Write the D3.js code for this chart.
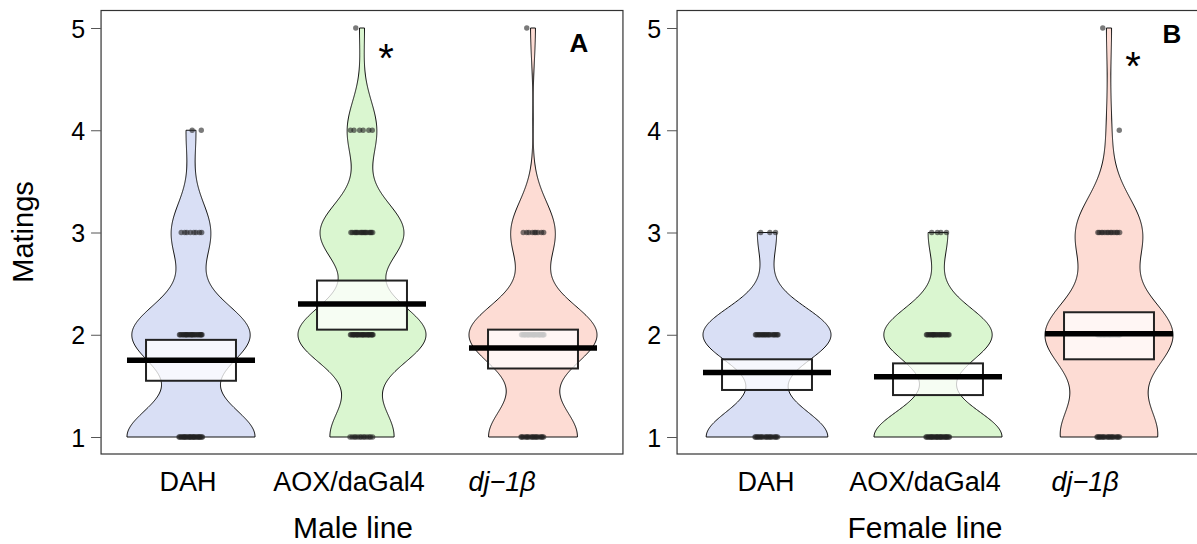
<!DOCTYPE html>
<html>
<head>
<meta charset="utf-8">
<script src="https://cdn.jsdelivr.net/npm/d3@7"></script>
<style>
  body { margin:0; background:#fff; }
  text { font-family: "Liberation Sans", Arial, Helvetica, sans-serif; fill:#000; }
</style>
</head>
<body>
<div id="chart"></div>
<script>
// matings: counts of flies per value (1..5 matings)
const values = [1, 2, 3, 4, 5];
const groups = ["DAH", "AOX/daGal4", "dj-1b"];

const maleDAH = [26, 24, 8, 2, 0];
const maleAOX = [13, 26, 17, 6, 1];
const maleDJ  = [18, 26, 9, 0, 1];
const femaleDAH = [19, 20, 3, 0, 0];
const femaleAOX = [26, 22, 4, 0, 0];
const femaleDJ  = [19, 25, 13, 1, 1];

// mean line and inference band
const maleMean = [1.75, 2.30, 1.87];
const maleLow  = [1.55, 2.05, 1.67];
const maleHigh = [1.95, 2.53, 2.05];
const femaleMean = [1.63, 1.59, 2.01];
const femaleLow  = [1.46, 1.41, 1.76];
const femaleHigh = [1.76, 1.72, 2.22];

const yTicks = [1, 2, 3, 4, 5];
const beanColors = ["#d9dff5", "#daf6d0", "#fddcd4"];

const W = 1197, H = 544;
const svg = d3.select("#chart").append("svg").attr("width", W).attr("height", H);

var y = d3.scaleLinear().domain([1, 5]).range([437, 28]);

// R's bw.nrd0
var bwNrd0 = function(arr){
  var s = d3.deviation(arr);
  var iqr = d3.quantile(arr, 0.75) - d3.quantile(arr, 0.25);
  var lo = Math.min(s, iqr/1.34);
  return 0.9 * lo * Math.pow(arr.length, -0.2);
}
var expand = function(counts){
  var out = [];
  counts.forEach((c,i)=>{ for (let k=0;k<c;k++) out.push(values[i]); });
  return out;
}

var drawPanel = function(opt){
  var x = d3.scaleLinear().domain([1, 3]).range([opt.x0, opt.x0 + 342]);
  var g = svg.append("g");
  var halfW = 0.3743, boxW = 0.263;

  // frame
  g.append("rect")
    .attr("x", x(0.474)).attr("y", 10.5)
    .attr("width", x(3.526) - x(0.474)).attr("height", 443.5)
    .attr("fill", "none").attr("stroke", "#333").attr("stroke-width", 1.2);

  // y axis
  var yAxis = d3.axisLeft(y).tickValues(yTicks).tickSize(10).tickPadding(6).tickFormat(d3.format("d"));
  var ax = g.append("g").attr("transform", "translate(" + x(0.474) + ",0)").call(yAxis);
  ax.select(".domain").remove();
  ax.selectAll("line").attr("stroke", "#555");
  ax.selectAll("text").attr("font-size", 25).attr("dy", "0.36em");

  opt.data.forEach((counts, gi)=>{
    var arr = expand(counts);
    var h = bwNrd0(arr);
    var lo = d3.min(arr), hi = d3.max(arr);
    var grid = d3.range(lo, hi + 1e-9, 0.01);
    var dens = grid.map(v => d3.sum(arr, a => Math.exp(-0.5*((v-a)/h)*((v-a)/h))));
    var mx = d3.max(dens);
    var c = gi + 1;
    var pts = grid.map((v,i)=>[x(c - halfW*dens[i]/mx), y(v)]);
    var ptsR = grid.map((v,i)=>[x(c + halfW*dens[i]/mx), y(v)]).reverse();
    g.append("path")
      .attr("d", d3.line()(pts.concat(ptsR)) + "Z")
      .attr("fill", beanColors[gi]).attr("stroke", "#111").attr("stroke-width", 1);

    // points with fixed spread
    var pg = g.append("g");
    counts.forEach((n, vi)=>{
      for (let k=0;k<n;k++){
        var off = (((k*0.618 + vi*0.31) % 1) - 0.5) * 0.14;
        pg.append("circle")
          .attr("cx", x(c + off)).attr("cy", y(values[vi]))
          .attr("r", 2.7).attr("fill", "#222").attr("fill-opacity", 0.6);
      }
    });

    // inference band
    g.append("rect")
      .attr("x", x(c - boxW)).attr("y", y(opt.high[gi]))
      .attr("width", x(c + boxW) - x(c - boxW))
      .attr("height", y(opt.low[gi]) - y(opt.high[gi]))
      .attr("fill", "#fff").attr("fill-opacity", 0.75)
      .attr("stroke", "#222").attr("stroke-width", 2);

    // mean line
    g.append("line")
      .attr("x1", x(c - halfW)).attr("x2", x(c + halfW))
      .attr("y1", y(opt.mean[gi])).attr("y2", y(opt.mean[gi]))
      .attr("stroke", "#000").attr("stroke-width", 5.5);

    // group label
    var t = g.append("text")
      .attr("x", x(c) + opt.labelShift[gi]).attr("y", 491)
      .attr("text-anchor", "middle").attr("font-size", 27);
    if (groups[gi] == "dj-1b"){
      t.append("tspan").attr("font-style", "italic").text("dj\u22121\u03b2");
    } else {
      t.text(groups[gi]);
    }
  });

  g.append("text")
    .attr("x", opt.titleX).attr("y", 538)
    .attr("text-anchor", "middle").attr("font-size", 30)
    .text(opt.title);

  g.append("text")
    .attr("x", opt.letter[0]).attr("y", opt.letter[1])
    .attr("text-anchor", "middle").attr("font-size", 26).attr("font-weight", "bold")
    .text(opt.letterText);

  g.append("text")
    .attr("x", opt.star[0]).attr("y", opt.star[1])
    .attr("text-anchor", "middle").attr("font-size", 40)
    .text("*");
}

drawPanel({
  x0: 191, data: [maleDAH, maleAOX, maleDJ],
  mean: maleMean, low: maleLow, high: maleHigh,
  labelShift: [-3, -13, -31], title: "Male line", titleX: 353,
  letter: [579, 52], letterText: "A", star: [386, 72]
});
drawPanel({
  x0: 767, data: [femaleDAH, femaleAOX, femaleDJ],
  mean: femaleMean, low: femaleLow, high: femaleHigh,
  labelShift: [-1, -13, -24], title: "Female line", titleX: 925,
  letter: [1172, 43], letterText: "B", star: [1133, 80]
});

svg.append("text")
  .attr("transform", "translate(33,232) rotate(-90)")
  .attr("text-anchor", "middle").attr("font-size", 29)
  .text("Matings");
</script>
</body>
</html>
